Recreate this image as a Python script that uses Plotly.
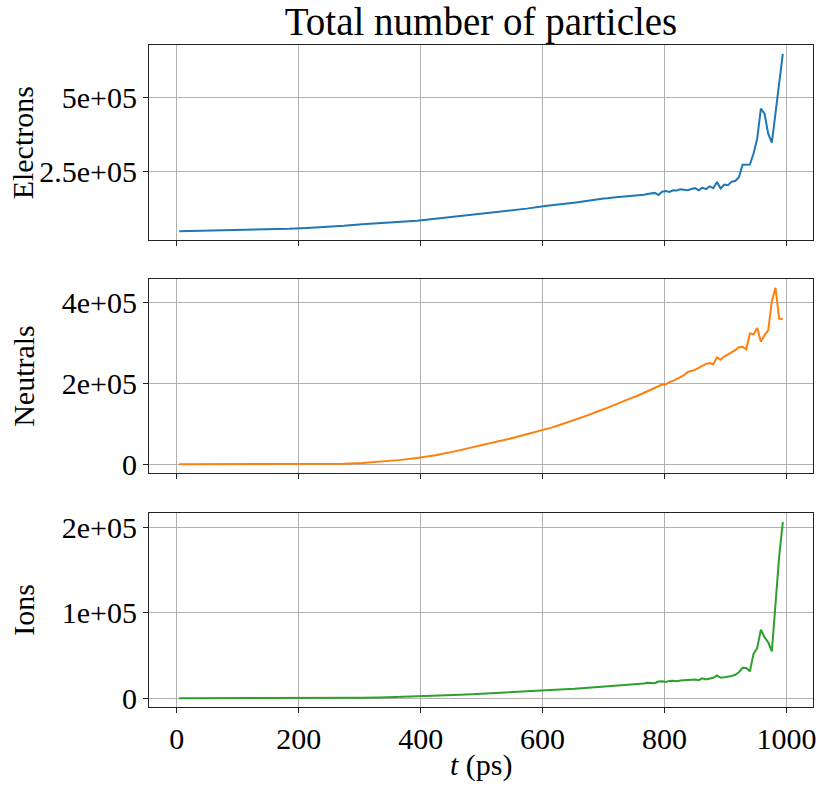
import plotly.graph_objects as go

# time of each dump (ps); coarse where the curves are smooth
t_ps = [4, 34, 64, 94, 124, 154, 184, 214, 244, 274, 304, 334, 364, 394, 424,
        454, 484, 514, 544, 574, 604, 616, 628, 640, 652, 664, 676, 688, 700,
        706, 712, 718, 724, 730, 736, 742, 748, 754, 760, 766, 772, 778, 784,
        790, 796, 802, 808, 814, 820, 826, 832, 838, 844, 850, 856, 862, 868,
        874, 880, 886, 892, 898, 904, 910, 916, 922, 928, 934, 940, 946, 952,
        958, 964, 970, 976, 982, 988, 994]

# particle counts, in thousands
electrons_k = [48, 49, 50, 51, 52.5, 54, 56, 59, 62, 66, 71, 75, 79, 83, 90,
               97, 104, 111, 116, 124, 133, 135, 138, 141, 144, 148, 151, 155, 158,
               159, 161, 162, 163, 164, 165, 166, 166, 167, 169, 171, 173, 174, 177,
               170, 181, 183, 180, 186, 185, 189, 188, 186, 190, 193, 186, 195, 190,
               199, 193, 214, 192, 205, 203, 215, 217, 230, 272, 272, 273, 310, 360,
               461, 444, 377, 347, 446, 546, 646]

neutrals_k = [0, 0, 0, 0, 0, 0, 0, 0, 0.3, 1, 3, 6, 10, 15, 22,
              31, 41, 51, 62, 74, 85, 91, 97, 103, 109, 115, 122, 129, 135,
              139, 143, 147, 151, 155, 158, 162, 165, 168, 172, 176, 180, 185, 188,
              192, 197, 197, 203, 206, 210, 215, 220, 228, 230, 233, 238, 243, 248,
              250, 247, 264, 258, 266, 271, 277, 282, 289, 290, 284, 323, 321, 337,
              303, 319, 331, 403, 436, 360, 358]

ions_k = [0, 0, 0, 0, 0, 0, 0, 0, 0, 0.2, 0.5, 0.9, 1.4, 2, 2.8,
          3.7, 4.7, 5.7, 6.7, 7.7, 8.7, 9.3, 9.9, 10.5, 11.1, 11.8, 12.4, 13.0, 13.6,
          14, 14.4, 14.8, 15.1, 15.4, 15.7, 16, 16.2, 16.4, 16.6, 17.2, 18.2, 18, 17.6,
          19.5, 19.8, 19, 20.3, 20.5, 20, 20.8, 21, 21.4, 21.8, 22, 21.2, 23.3, 22,
          23, 24, 26.8, 24, 24.5, 25, 26, 27.5, 30.5, 35.7, 35.5, 31.5, 52, 59,
          80.4, 71.5, 65.6, 55, 110, 166, 207]

panels = [
    ("Electrons", electrons_k, "#1f77b4", [2.5e5, 5e5], ["2.5e+05", "5e+05"]),
    ("Neutrals", neutrals_k, "#ff7f0e", [0, 2e5, 4e5], ["0", "2e+05", "4e+05"]),
    ("Ions", ions_k, "#2ca02c", [0, 1e5, 2e5], ["0", "1e+05", "2e+05"]),
]
domains = [[0.7054, 1.0], [0.3535, 0.6465], [0.0, 0.293]]

FONT = "Liberation Serif"
fig = go.Figure()

x_lo, x_hi = min(t_ps), max(t_ps)
x_pad = 0.05 * (x_hi - x_lo)

for i, (name, vals_k, color, tv, tt) in enumerate(panels):
    n = "" if i == 0 else str(i + 1)
    vals = [v * 1000 for v in vals_k]
    fig.add_trace(go.Scatter(x=t_ps, y=vals, mode="lines",
                             line=dict(color=color, width=2),
                             xaxis="x" + n, yaxis="y" + n, showlegend=False))
    lo, hi = min(vals), max(vals)
    pad = 0.05 * (hi - lo)
    ax = dict(showline=True, linecolor="#222", linewidth=1, mirror=True,
              ticks="outside", ticklen=5, tickcolor="#222",
              showgrid=True, gridcolor="#b0b0b0", gridwidth=1, zeroline=False,
              tickfont=dict(family=FONT, size=30, color="black"))
    fig.layout["xaxis" + n] = dict(ax, range=[x_lo - x_pad, x_hi + x_pad],
                                   domain=[0, 1], anchor="y" + n,
                                   tickvals=[0, 200, 400, 600, 800, 1000],
                                   showticklabels=(i == 2))
    fig.layout["yaxis" + n] = dict(ax, range=[lo - pad, hi + pad],
                                   domain=domains[i], anchor="x" + n,
                                   tickvals=tv, ticktext=tt)
    fig.add_annotation(text=name, textangle=-90, xref="paper",
                       yref="y" + n + " domain", x=-0.19, y=0.5,
                       xanchor="center", yanchor="middle", showarrow=False,
                       font=dict(family=FONT, size=30, color="black"))

fig.add_annotation(text="<i>t</i> (ps)", xref="paper", yref="paper",
                   x=0.5, y=-0.087, xanchor="center", yanchor="middle",
                   showarrow=False, font=dict(family=FONT, size=30, color="black"))

fig.update_layout(
    width=826, height=788,
    margin=dict(l=149, r=10, t=45, b=81),
    plot_bgcolor="white", paper_bgcolor="white",
    title=dict(text="Total number of particles", x=0.5, xref="paper",
               y=1 - 21 / 788, yanchor="middle",
               font=dict(family=FONT, size=39, color="black")),
)

# drop the page's default 8px body margin so the figure fills the window
fig.write_html("out.html", config={"displayModeBar": False},
               post_script="document.body.style.margin='0';")
